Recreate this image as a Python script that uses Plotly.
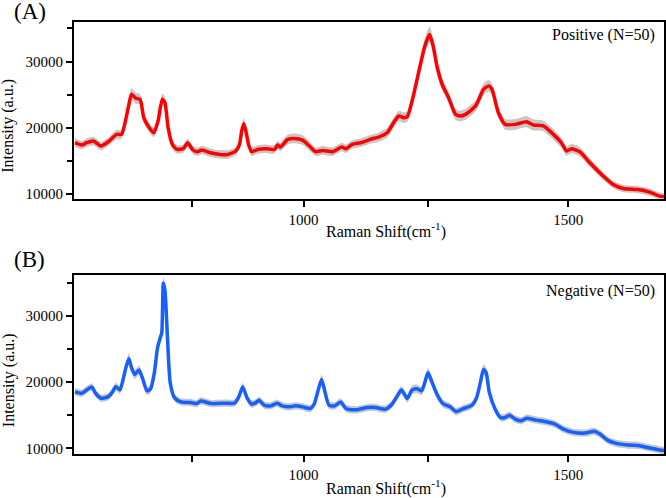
import plotly.graph_objects as go

# ---------------- data ----------------
wn_pos = [568, 581, 590, 603, 617, 631, 647, 656, 662, 670,
          675, 683, 691, 698, 705, 717, 725, 733, 738, 744,
          752, 761, 773, 781, 790, 799, 808, 824, 842, 857,
          872, 879, 883, 887, 891, 896, 902, 913, 929, 945,
          951, 956, 970, 982, 998, 1011, 1023, 1036, 1055, 1072,
          1080, 1092, 1108, 1126, 1142, 1158, 1170, 1180, 1189, 1196,
          1205, 1218, 1229, 1238, 1245, 1252, 1262, 1274, 1287, 1296,
          1306, 1325, 1340, 1350, 1356, 1368, 1381, 1400, 1421, 1434,
          1453, 1472, 1487, 1497, 1506, 1522, 1541, 1563, 1585, 1604,
          1632, 1654, 1673, 1681]
int_pos = [17730, 17380, 17730, 17980, 17230, 17880, 18990, 18990, 20500, 23530,
           25050, 24440, 24290, 21520, 20410, 19240, 21010, 24290, 23790, 20000,
           17470, 16710, 16860, 17730, 16710, 16360, 16620, 16210, 15960, 15960,
           16470, 17470, 19490, 20600, 19490, 17470, 16360, 16710, 16820, 16710,
           17380, 17070, 18230, 18380, 18130, 17230, 16360, 16570, 16360, 17070,
           16820, 17470, 17730, 18230, 18590, 19240, 20760, 21770, 21520, 21670,
           24040, 28590, 32320, 34090, 32320, 29290, 26520, 24550, 22020, 21770,
           22020, 23290, 25800, 26320, 25800, 22270, 20500, 20500, 20910, 20410,
           20260, 18990, 17730, 16470, 16820, 16360, 14700, 12930, 11410, 10800,
           10650, 10250, 9650, 9550]
sd_pos = [650, 650, 650, 650, 650, 650, 700, 700, 750, 850,
          900, 850, 800, 750, 700, 700, 750, 850, 850, 750,
          650, 650, 650, 650, 650, 650, 650, 650, 650, 650,
          650, 650, 750, 850, 750, 650, 650, 650, 650, 650,
          650, 650, 750, 750, 750, 700, 650, 650, 650, 650,
          650, 650, 650, 650, 700, 750, 750, 800, 800, 800,
          850, 1000, 1150, 1200, 1150, 1050, 950, 850, 800, 800,
          800, 850, 900, 900, 900, 850, 800, 800, 850, 850,
          800, 800, 750, 700, 700, 700, 650, 600, 550, 550,
          550, 550, 550, 550]

wn_neg = [568, 581, 590, 600, 606, 617, 631, 639, 645, 653,
          659, 665, 670, 675, 681, 689, 696, 704, 711, 718,
          724, 729, 732, 735, 738, 743, 748, 756, 768, 787,
          798, 806, 825, 853, 869, 877, 885, 893, 902, 910,
          916, 926, 938, 950, 960, 973, 985, 998, 1013, 1020,
          1028, 1034, 1040, 1048, 1059, 1070, 1080, 1099, 1121, 1136,
          1155, 1167, 1177, 1185, 1196, 1205, 1214, 1223, 1229, 1235,
          1243, 1252, 1263, 1277, 1288, 1302, 1318, 1327, 1334, 1340,
          1345, 1351, 1362, 1372, 1381, 1389, 1400, 1412, 1421, 1440,
          1459, 1475, 1491, 1510, 1532, 1550, 1560, 1576, 1591, 1613,
          1635, 1654, 1673, 1681]
int_neg = [18530, 18320, 18830, 19280, 18420, 17570, 17820, 18530, 19330, 18830,
           20420, 22440, 23540, 22180, 21170, 21840, 20530, 18680, 19020, 21430,
           25190, 26700, 27450, 34970, 33960, 26440, 19930, 17670, 17020, 16920,
           16770, 17170, 16770, 16820, 16820, 17670, 19280, 17670, 16670, 16920,
           17260, 16510, 16420, 16820, 16420, 16270, 16420, 16270, 16020, 16670,
           18920, 20420, 18680, 16510, 16420, 17020, 16020, 15820, 16170, 16170,
           15920, 16670, 17930, 18830, 17520, 18830, 19020, 18680, 19930, 21430,
           19930, 18170, 16770, 16270, 15560, 16020, 16510, 17670, 19930, 21930,
           21430, 18420, 15920, 14660, 14660, 15010, 14410, 14160, 14560, 14260,
           14010, 13660, 12900, 12410, 12300, 12560, 12150, 11160, 10750, 10500,
           10400, 10050, 9750, 9650]
sd_neg = [550, 550, 550, 550, 550, 550, 550, 550, 600, 600,
          650, 750, 850, 750, 700, 700, 650, 600, 600, 650,
          750, 800, 850, 950, 950, 800, 650, 600, 550, 550,
          550, 550, 550, 550, 550, 550, 650, 550, 550, 550,
          550, 550, 550, 550, 550, 550, 550, 550, 550, 550,
          650, 750, 650, 550, 550, 550, 550, 550, 550, 550,
          550, 550, 600, 650, 600, 650, 650, 650, 700, 750,
          700, 650, 600, 550, 550, 550, 550, 600, 700, 800,
          750, 650, 550, 550, 550, 550, 550, 550, 550, 550,
          550, 550, 550, 550, 550, 550, 550, 550, 550, 550,
          550, 550, 550, 550]

x_major_ticks = [1000, 1500]
x_minor_ticks = [789, 1236]
y_major_ticks = [10000, 20000, 30000]
y_minor_ticks = [15000, 25000, 35000]

panel_labels = ["(A)", "(B)"]
group_labels = ["Positive (N=50)", "Negative (N=50)"]
x_title = "Raman Shift(cm<sup>-1</sup>)"
y_title = "Intensity (a.u.)"

assert len(wn_pos) == len(int_pos) == len(sd_pos)
assert len(wn_neg) == len(int_neg) == len(sd_neg)

W, H = 666, 498
FONT = "Liberation Serif, Times New Roman, DejaVu Serif, serif"
SMOOTH = 0.6

fig = go.Figure()

def add_panel(x, y, sd, color, xa, ya):
    up = [a + b for a, b in zip(y, sd)]
    lo = [a - b for a, b in zip(y, sd)]
    fig.add_trace(go.Scatter(x=x, y=up, mode="lines", line=dict(width=0, shape="spline", smoothing=SMOOTH),
                             xaxis=xa, yaxis=ya, showlegend=False, hoverinfo="skip"))
    fig.add_trace(go.Scatter(x=x, y=lo, mode="lines", line=dict(width=0, shape="spline", smoothing=SMOOTH),
                             fill="tonexty", fillcolor="rgba(185,185,185,0.8)",
                             xaxis=xa, yaxis=ya, showlegend=False, hoverinfo="skip"))
    fig.add_trace(go.Scatter(x=x, y=y, mode="lines",
                             line=dict(color=color, width=3.5, shape="spline", smoothing=SMOOTH),
                             xaxis=xa, yaxis=ya, showlegend=False))

add_panel(wn_pos, int_pos, sd_pos, "#FF0000", "x", "y")
add_panel(wn_neg, int_neg, sd_neg, "#1560FF", "x2", "y2")

def px(v):
    return v / W

def py(v):
    return 1 - v / H

axis_common = dict(showline=True, linecolor="black", linewidth=2, mirror=True,
                   ticks="outside", ticklen=6, tickwidth=1.5, tickcolor="black",
                   showgrid=False, zeroline=False, tickformat="d",
                   tickfont=dict(family=FONT, size=15, color="black"))

xcommon = dict(axis_common, range=[566, 1681], tickmode="array", tickvals=x_major_ticks,
               minor=dict(tickmode="array", tickvals=x_minor_ticks, ticks="outside",
                          ticklen=6, tickwidth=1.5, tickcolor="black", showgrid=False),
               domain=[px(74), px(665)])
ycommon = dict(axis_common, tickmode="array", tickvals=y_major_ticks,
               minor=dict(tickmode="array", tickvals=y_minor_ticks, ticks="outside",
                          ticklen=5, tickwidth=1.5, tickcolor="black", showgrid=False))

fig.update_layout(
    width=W, height=H,
    margin=dict(l=0, r=0, t=0, b=0),
    paper_bgcolor="white", plot_bgcolor="white",
    font=dict(family=FONT, color="black"),
    xaxis=dict(xcommon, anchor="y"),
    yaxis=dict(ycommon, range=[9250, 36000], domain=[py(200), py(22)], anchor="x"),
    xaxis2=dict(xcommon, anchor="y2"),
    yaxis2=dict(ycommon, range=[9100, 36170], domain=[py(457), py(277)], anchor="x2"),
)

ann = []
for lab, yc in zip(panel_labels, [12, 261]):
    ann.append(dict(text=lab, x=px(12), y=py(yc), xanchor="left", yanchor="middle",
                    font=dict(family=FONT, size=23, color="black")))
for lab, yc in zip(group_labels, [35, 293]):
    ann.append(dict(text=lab, x=px(658), y=py(yc), xanchor="right", yanchor="middle",
                    font=dict(family=FONT, size=16, color="black")))
for yc in [126, 382]:
    ann.append(dict(text=y_title, x=px(8.5), y=py(yc), xanchor="center", yanchor="middle",
                    textangle=-90, font=dict(family=FONT, size=16, color="black")))
for yc in [232, 490]:
    ann.append(dict(text=x_title, x=px(387), y=py(yc), xanchor="center", yanchor="middle",
                    font=dict(family=FONT, size=16, color="black")))
for a in ann:
    a.update(xref="paper", yref="paper", showarrow=False)
fig.update_layout(annotations=ann)

fig.write_html("out.html")
